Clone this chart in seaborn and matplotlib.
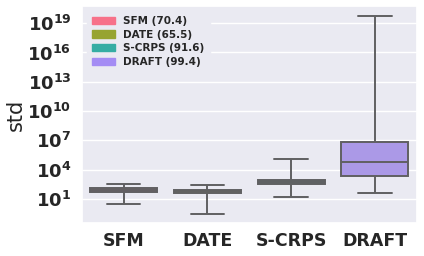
import numpy as np
import pandas as pd
import seaborn as sns
import matplotlib
matplotlib.use("Agg")
import matplotlib.pyplot as plt
import matplotlib.patches as mpatches
from matplotlib.ticker import FuncFormatter, NullLocator

# Data (five-number summaries, log10 of std)
methods = ["SFM", "DATE", "S-CRPS", "DRAFT"]
legend_scores = ["70.4", "65.5", "91.6", "99.4"]
sfm_log = [0.49, 1.69, 1.90, 2.09, 2.56]
date_log = [-0.53, 1.58, 1.80, 1.95, 2.46]
scrps_log = [1.20, 2.50, 2.70, 2.94, 5.10]
draft_log = [1.64, 3.30, 4.80, 6.80, 19.74]
yticks_exp = [1, 4, 7, 10, 13, 16, 19]

rows = []
for m, vals in zip(methods, [sfm_log, date_log, scrps_log, draft_log]):
    for v in vals:
        rows.append({"method": m, "std": 10.0 ** v})
df = pd.DataFrame(rows)

sns.set_theme(style="darkgrid")

palette = sns.color_palette("husl", len(methods))

fig = plt.figure(figsize=(4.24, 2.56), dpi=100)
ax = fig.add_axes([0.193, 0.128, 0.79, 0.85])

sns.boxplot(data=df, x="method", y="std", hue="method", palette=palette,
            whis=(0, 100), showfliers=False, log_scale=True, ax=ax,
            legend=False, linewidth=1.4, linecolor="#606062")

ax.set_ylim(10 ** -1.49, 10 ** 20.8)
ax.set_yticks([10.0 ** e for e in yticks_exp])
ax.yaxis.set_minor_locator(NullLocator())
ax.yaxis.set_major_formatter(
    FuncFormatter(lambda v, p: r"$\mathbf{10^{%d}}$" % int(round(np.log10(v)))))
ax.set_xlabel("")
ax.set_ylabel("std", fontsize=15)
ax.yaxis.set_label_coords(-0.166, 0.5)
for lab in ax.get_xticklabels():
    lab.set_fontweight("bold")
    lab.set_fontsize(12.5)
ax.tick_params(axis="y", labelsize=13, pad=1.5)
ax.tick_params(axis="x", pad=0)

handles = [mpatches.Patch(color=c, label=f"{m} ({s})")
           for c, m, s in zip(palette, methods, legend_scores)]
leg = ax.legend(handles=handles, loc="upper left",
                prop={"weight": "bold", "size": 7.5}, handlelength=2.2,
                labelspacing=0.35, borderpad=0.5)
leg.get_frame().set_edgecolor("#EAEAF2")
leg.get_frame().set_facecolor("#EAEAF2")
leg.get_frame().set_alpha(1.0)

fig.savefig("out.png", dpi=100)
